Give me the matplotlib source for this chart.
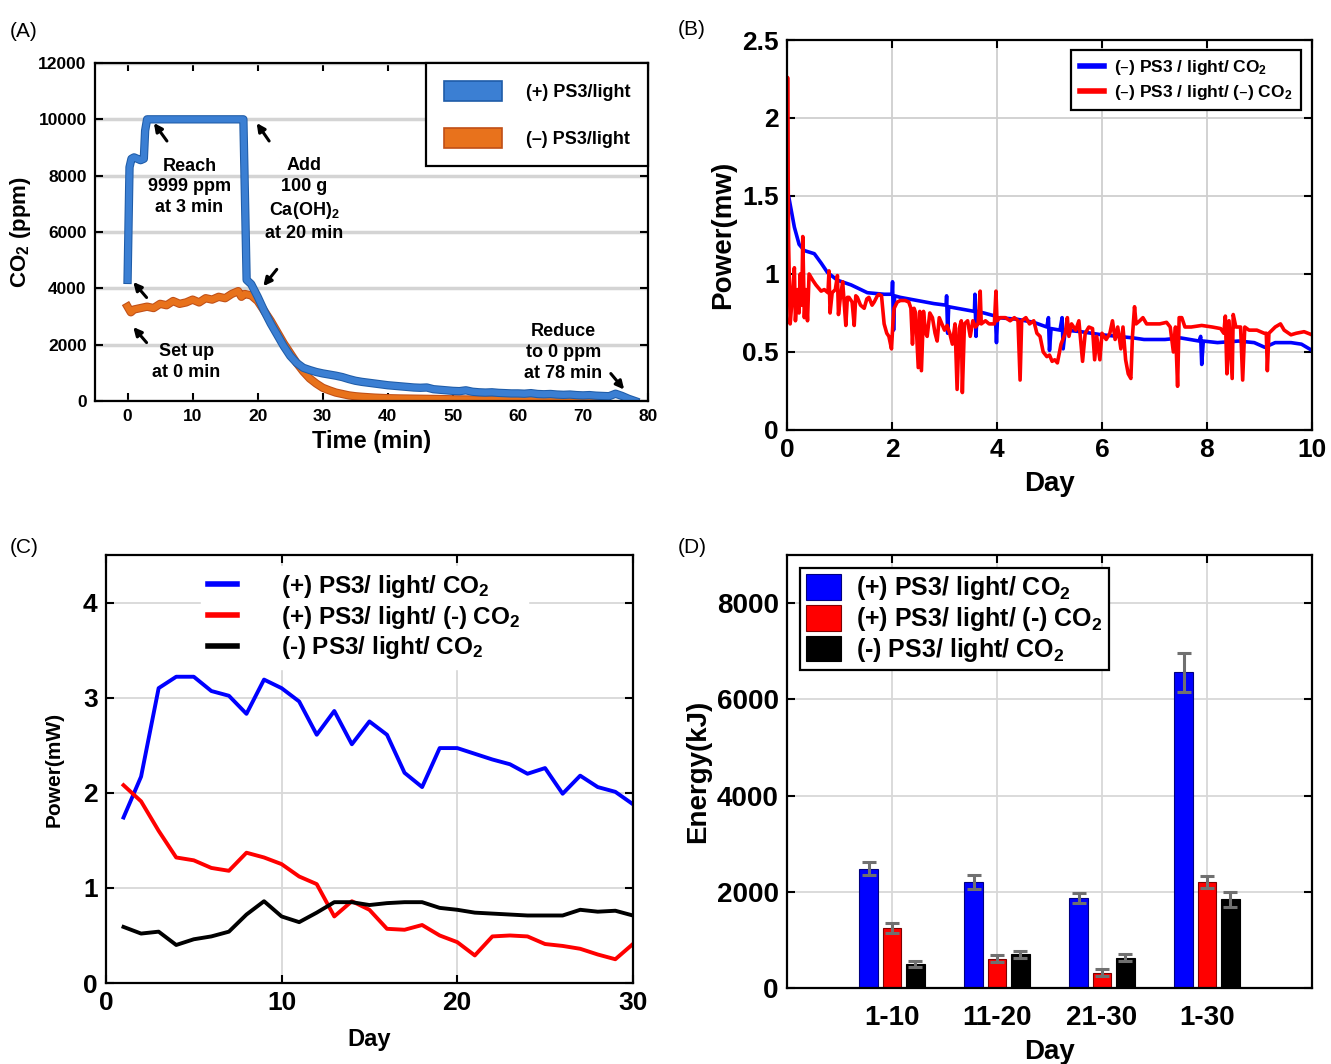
import numpy as np
import matplotlib
matplotlib.use('Agg')
import matplotlib.pyplot as plt
import matplotlib.patheffects as pe
from matplotlib.patches import Patch

plt.rcParams['font.family'] = ['Liberation Sans', 'DejaVu Sans']
plt.rcParams['font.weight'] = 'bold'
plt.rcParams['mathtext.default'] = 'regular'
plt.rcParams['axes.linewidth'] = 1.6

# ---- (A) CO2 vs time ----
a_plus_t = [0, 0.3, 0.6, 1.0, 1.5, 2.0, 2.5, 2.7, 3.0, 5, 10, 15, 17.8, 18.3, 19, 20, 21, 22,
            23, 24, 25, 26, 27, 28, 29, 30, 31, 32, 33, 34, 35, 36, 37, 38, 39, 40, 41, 42, 43,
            44, 45, 46, 47, 48, 49, 50, 51, 52, 53, 54, 55, 56, 57, 58, 59, 60, 61, 62, 63, 64,
            65, 66, 67, 68, 69, 70, 71, 72, 73, 74, 75, 76, 77, 78]
a_plus_co2 = [4300, 8300, 8600, 8650, 8600, 8550, 8600, 9600, 10000, 10000, 10000, 10000, 10000,
              4300, 4150, 3700, 3200, 2750, 2350, 1950, 1600, 1350, 1180, 1100, 1030, 980, 940,
              900, 850, 780, 720, 680, 650, 620, 590, 560, 540, 520, 500, 480, 470, 480, 420, 400,
              380, 360, 350, 380, 330, 310, 300, 310, 290, 280, 270, 270, 260, 280, 250, 240, 250,
              230, 220, 230, 210, 200, 210, 190, 180, 170, 260, 180, 80, 0]
a_minus_t = [0, 0.5, 1, 2, 3, 4, 5, 6, 7, 8, 9, 10, 11, 12, 13, 14, 15, 16, 17, 17.5, 18, 19, 20,
             21, 22, 23, 24, 25, 26, 27, 28, 29, 30, 31, 32, 33, 34, 35, 36, 38, 40, 42, 45, 48,
             50, 55, 60, 65, 70, 72]
a_minus_co2 = [3350, 3150, 3250, 3300, 3350, 3300, 3450, 3400, 3550, 3450, 3500, 3600, 3500, 3650,
               3600, 3700, 3650, 3800, 3900, 3700, 3800, 3750, 3550, 3200, 2850, 2450, 2050, 1700,
               1350, 1050, 800, 620, 470, 380, 300, 250, 200, 170, 150, 120, 100, 90, 80, 70, 60,
               50, 40, 35, 30, 20]

# ---- (B) power over 10 days ----
b_blue_day = [0, 0.03, 0.14, 0.23, 0.33, 0.52, 0.65, 0.77, 0.96, 1.22, 1.53, 1.85, 2.0, 2.01, 2.03,
              2.05, 2.16, 2.48, 2.8, 3.03, 3.04, 3.06, 3.08, 3.24, 3.57, 3.58, 3.6, 3.62, 3.75, 3.97,
              3.99, 4.01, 4.38, 4.7, 4.95, 4.98, 5.0, 5.03, 5.2, 5.24, 5.26, 5.3, 5.6, 6.0, 6.3, 6.6,
              6.8, 7.2, 7.5, 7.85, 7.88, 7.9, 7.93, 8.2, 8.6, 8.9, 9.1, 9.3, 9.6, 9.8, 10]
b_blue_pw = [1.28, 1.5, 1.3, 1.19, 1.15, 1.13, 1.07, 1.01, 0.96, 0.93, 0.88, 0.87, 0.87, 0.95, 0.64,
             0.86, 0.85, 0.83, 0.81, 0.80, 0.86, 0.62, 0.79, 0.78, 0.76, 0.87, 0.60, 0.76, 0.75, 0.73,
             0.56, 0.72, 0.71, 0.69, 0.66, 0.72, 0.51, 0.65, 0.64, 0.72, 0.52, 0.64, 0.63, 0.61, 0.60,
             0.59, 0.58, 0.58, 0.59, 0.57, 0.60, 0.42, 0.57, 0.56, 0.57, 0.56, 0.53, 0.56, 0.56, 0.55,
             0.51]
b_red_day = [0, 0.01, 0.03, 0.06, 0.1, 0.14, 0.16, 0.2, 0.23, 0.25, 0.28, 0.3, 0.33, 0.36, 0.39,
             0.42, 0.49, 0.55, 0.65, 0.71, 0.78, 0.8, 0.82, 0.86, 0.92, 0.96, 0.98, 1.02, 1.06, 1.12,
             1.15, 1.18, 1.24, 1.28, 1.31, 1.34, 1.4, 1.47, 1.52, 1.56, 1.62, 1.66, 1.72, 1.75, 1.8,
             1.85, 1.9, 1.94, 1.99, 2.02, 2.04, 2.1, 2.16, 2.25, 2.32, 2.36, 2.39, 2.42, 2.45, 2.5,
             2.53, 2.56, 2.6, 2.64, 2.67, 2.72, 2.77, 2.82, 2.86, 2.9, 2.95, 3.0, 3.05, 3.1, 3.15,
             3.2, 3.24, 3.28, 3.32, 3.34, 3.38, 3.44, 3.49, 3.54, 3.59, 3.64, 3.68, 3.7, 3.78, 3.85,
             3.95, 3.98, 4.0, 4.06, 4.16, 4.25, 4.33, 4.4, 4.44, 4.47, 4.55, 4.62, 4.7, 4.76, 4.82,
             4.88, 4.95, 5.0, 5.05, 5.1, 5.15, 5.22, 5.3, 5.34, 5.37, 5.42, 5.5, 5.56, 5.6, 5.63,
             5.68, 5.75, 5.82, 5.86, 5.9, 5.96, 6.0, 6.08, 6.15, 6.2, 6.25, 6.3, 6.36, 6.4, 6.45,
             6.5, 6.55, 6.58, 6.62, 6.65, 6.72, 6.78, 6.85, 7.0, 7.1, 7.23, 7.3, 7.36, 7.4, 7.44,
             7.47, 7.52, 7.58, 7.7, 7.9, 8.1, 8.26, 8.32, 8.35, 8.38, 8.42, 8.48, 8.5, 8.55, 8.64,
             8.68, 8.72, 8.8, 8.95, 9.09, 9.13, 9.15, 9.18, 9.3, 9.4, 9.47, 9.6, 9.7, 9.85, 10]
b_red_pw = [1.3, 2.26, 1.2, 0.68, 0.85, 1.04, 0.70, 0.9, 0.75, 1.0, 0.8, 1.24, 0.72, 0.9, 0.70,
            1.0, 0.96, 0.93, 0.89, 0.90, 0.88, 1.02, 0.75, 0.88, 0.90, 0.99, 0.74, 0.86, 0.95, 0.67,
            0.85, 0.85, 0.82, 0.67, 0.86, 0.85, 0.80, 0.78, 0.84, 0.85, 0.80, 0.82, 0.86, 0.87, 0.86,
            0.68, 0.62, 0.60, 0.52, 0.70, 0.78, 0.82, 0.83, 0.83, 0.82, 0.78, 0.55, 0.78, 0.75, 0.40,
            0.76, 0.38, 0.76, 0.62, 0.60, 0.75, 0.72, 0.62, 0.57, 0.72, 0.68, 0.64, 0.67, 0.62, 0.55,
            0.68, 0.26, 0.65, 0.70, 0.24, 0.68, 0.70, 0.60, 0.70, 0.66, 0.68, 0.89, 0.68, 0.70, 0.68,
            0.68, 0.89, 0.70, 0.72, 0.72, 0.70, 0.72, 0.70, 0.32, 0.70, 0.72, 0.68, 0.70, 0.62, 0.60,
            0.50, 0.47, 0.48, 0.44, 0.45, 0.43, 0.55, 0.62, 0.72, 0.60, 0.68, 0.64, 0.70, 0.55, 0.44,
            0.62, 0.66, 0.65, 0.45, 0.60, 0.45, 0.62, 0.58, 0.62, 0.70, 0.58, 0.66, 0.52, 0.66, 0.45,
            0.36, 0.33, 0.60, 0.79, 0.68, 0.70, 0.72, 0.68, 0.68, 0.68, 0.69, 0.66, 0.50, 0.66, 0.28,
            0.72, 0.72, 0.66, 0.66, 0.67, 0.66, 0.65, 0.62, 0.73, 0.36, 0.70, 0.33, 0.74, 0.66, 0.66,
            0.32, 0.66, 0.64, 0.64, 0.62, 0.62, 0.38, 0.62, 0.66, 0.68, 0.64, 0.61, 0.62, 0.63, 0.61]

# ---- (C) daily power over 30 days ----
c_day = list(range(1, 31))
c_plus_co2 = [1.74, 2.17, 3.10, 3.22, 3.22, 3.07, 3.02, 2.83, 3.19, 3.10, 2.96, 2.61, 2.86, 2.51,
              2.75, 2.61, 2.21, 2.06, 2.47, 2.47, 2.41, 2.35, 2.30, 2.20, 2.26, 1.99, 2.18, 2.06,
              2.01, 1.88]
c_plus_noco2 = [2.08, 1.91, 1.60, 1.32, 1.29, 1.21, 1.18, 1.37, 1.32, 1.25, 1.12, 1.04, 0.70, 0.86,
                0.77, 0.57, 0.56, 0.61, 0.50, 0.43, 0.29, 0.49, 0.50, 0.49, 0.41, 0.39, 0.36, 0.30,
                0.25, 0.41]
c_minus_co2 = [0.59, 0.52, 0.54, 0.40, 0.46, 0.49, 0.54, 0.72, 0.86, 0.70, 0.64, 0.74, 0.85, 0.85,
               0.82, 0.84, 0.85, 0.85, 0.79, 0.77, 0.74, 0.73, 0.72, 0.71, 0.71, 0.71, 0.77, 0.75,
               0.76, 0.71]

# ---- (D) energy per period ----
d_periods = ['1-10', '11-20', '21-30', '1-30']
d_plus_co2 = [2480, 2200, 1870, 6560]
d_plus_co2_err = [140, 150, 100, 400]
d_plus_noco2 = [1250, 610, 320, 2200]
d_plus_noco2_err = [100, 75, 75, 120]
d_minus_co2 = [500, 700, 630, 1840]
d_minus_co2_err = [70, 70, 70, 150]

fig = plt.figure(figsize=(13.31, 10.64), dpi=100)


def style_axes(ax, labelsize):
    ax.tick_params(direction='in', top=True, right=True, width=1.5, length=6,
                   labelsize=labelsize, pad=6)
    for lab in ax.get_xticklabels() + ax.get_yticklabels():
        lab.set_fontweight('bold')


# (A)
axA = fig.add_axes([0.0714, 0.6231, 0.4155, 0.3177])
blue_a, blue_a_edge = '#3b7fd3', '#1f5ca8'
orange_a, orange_a_edge = '#e8721c', '#c04f17'
axA.plot(a_minus_t, a_minus_co2, color=orange_a, lw=4.5,
         path_effects=[pe.Stroke(linewidth=6, foreground=orange_a_edge), pe.Normal()])
axA.plot(a_plus_t, a_plus_co2, color=blue_a, lw=4.5,
         path_effects=[pe.Stroke(linewidth=6, foreground=blue_a_edge), pe.Normal()])
axA.set_xlim(-5, 80)
axA.set_ylim(0, 12000)
axA.set_xticks(range(0, 81, 10))
axA.set_yticks(range(0, 12001, 2000))
axA.yaxis.grid(True, color='#d4d4d4', lw=2.5)
axA.set_axisbelow(True)
style_axes(axA, 12.5)
axA.set_xlabel('Time (min)', fontsize=17, fontweight='bold', labelpad=4)
axA.set_ylabel('CO$_2$ (ppm)', fontsize=16, fontweight='bold', labelpad=4)

ann_kw = dict(fontsize=13, fontweight='bold', ha='center', va='center', linespacing=1.3)
arrow_kw = dict(arrowstyle='-|>', color='black', lw=2.2, mutation_scale=12)
axA.text(9.5, 7600, 'Reach\n9999 ppm\nat 3 min', **ann_kw)
axA.text(27.2, 7150, 'Add\n100 g\nCa(OH)$_2$\nat 20 min', **ann_kw)
axA.text(9.0, 1370, 'Set up\nat 0 min', **ann_kw)
axA.text(67.0, 1720, 'Reduce\nto 0 ppm\nat 78 min', **ann_kw)
axA.annotate('', xy=(3.8, 9950), xytext=(6.3, 9150), arrowprops=arrow_kw)
axA.annotate('', xy=(19.6, 9950), xytext=(22.0, 9150), arrowprops=arrow_kw)
axA.annotate('', xy=(20.6, 4000), xytext=(23.2, 4750), arrowprops=arrow_kw)
axA.annotate('', xy=(0.6, 4300), xytext=(3.2, 3600), arrowprops=arrow_kw)
axA.annotate('', xy=(0.6, 2700), xytext=(3.2, 2000), arrowprops=arrow_kw)
axA.annotate('', xy=(76.6, 330), xytext=(74.0, 1050), arrowprops=arrow_kw)

legA = axA.legend(handles=[Patch(facecolor=blue_a, edgecolor=blue_a_edge, lw=1.2),
                           Patch(facecolor=orange_a, edgecolor=orange_a_edge, lw=1.2)],
                  labels=['(+) PS3/light', '(\u2013) PS3/light'],
                  loc='upper right', bbox_to_anchor=(1.0, 1.0), fancybox=False,
                  edgecolor='black', framealpha=1, borderaxespad=0,
                  prop={'weight': 'bold', 'size': 13}, handlelength=3.2, handleheight=1.3,
                  handletextpad=1.3, labelspacing=1.5, borderpad=1.0)
legA.get_frame().set_linewidth(1.6)

# (B)
axB = fig.add_axes([0.5913, 0.5959, 0.3944, 0.3665])
axB.plot(b_blue_day, b_blue_pw, color='#0000ff', lw=2.6)
axB.plot(b_red_day, b_red_pw, color='#ff0000', lw=2.6)
axB.set_xlim(0, 10)
axB.set_ylim(0, 2.5)
axB.set_xticks(range(0, 11, 2))
axB.set_yticks([0, 0.5, 1, 1.5, 2, 2.5])
axB.set_yticklabels(['0', '0.5', '1', '1.5', '2', '2.5'])
axB.grid(True, color='#cfcfcf', lw=1.3)
axB.set_axisbelow(True)
style_axes(axB, 19)
axB.set_xlabel('Day', fontsize=20, fontweight='bold', labelpad=6)
axB.set_ylabel('Power(mw)', fontsize=20, fontweight='bold', labelpad=4)
legB = axB.legend(['(\u2013) PS3 / light/ CO$_2$', '(\u2013) PS3 / light/ (\u2013) CO$_2$'],
                  loc='upper right', bbox_to_anchor=(0.98, 0.975), fancybox=False,
                  edgecolor='black', framealpha=1, borderaxespad=0,
                  prop={'weight': 'bold', 'size': 12.5}, handlelength=1.4,
                  handletextpad=0.6, labelspacing=0.3, borderpad=0.5)
legB.get_frame().set_linewidth(1.6)
for ln in legB.get_lines():
    ln.set_linewidth(4)

# (C)
axC = fig.add_axes([0.0796, 0.0761, 0.3959, 0.4023])
axC.plot(c_day, c_plus_co2, color='#0000ff', lw=2.8)
axC.plot(c_day, c_plus_noco2, color='#ff0000', lw=2.8)
axC.plot(c_day, c_minus_co2, color='black', lw=2.8)
axC.set_xlim(0, 30)
axC.set_ylim(0, 4.5)
axC.set_xticks([0, 10, 20, 30])
axC.set_yticks([0, 1, 2, 3, 4])
axC.grid(True, color='#d8d8d8', lw=1.3)
axC.set_axisbelow(True)
style_axes(axC, 19)
axC.set_xlabel('Day', fontsize=17, fontweight='bold', labelpad=9)
axC.set_ylabel('Power(mW)', fontsize=15, fontweight='bold', labelpad=14)
legC = axC.legend(['(+) PS3/ light/ CO$_2$', '(+) PS3/ light/ (-) CO$_2$',
                   '(-) PS3/ light/ CO$_2$'],
                  loc='upper left', bbox_to_anchor=(0.18, 0.975), frameon=True,
                  facecolor='white', edgecolor='white', framealpha=1, borderaxespad=0,
                  prop={'weight': 'bold', 'size': 17.5}, handlelength=1.2,
                  handletextpad=1.8, labelspacing=0.15, borderpad=0.3)
for ln in legC.get_lines():
    ln.set_linewidth(4)

# (D)
axD = fig.add_axes([0.5913, 0.0714, 0.3944, 0.4070])
pos = np.arange(1, len(d_periods) + 1)
bw = 0.18
err_kw = dict(ecolor='#707070', elinewidth=2.2, capsize=5, capthick=2.2)
axD.bar(pos - 0.22, d_plus_co2, bw, yerr=d_plus_co2_err, color='#0000ff',
        edgecolor='#000080', lw=0.8, error_kw=err_kw, label='(+) PS3/ light/ CO$_2$')
axD.bar(pos, d_plus_noco2, bw, yerr=d_plus_noco2_err, color='#ff0000',
        edgecolor='#800000', lw=0.8, error_kw=err_kw, label='(+) PS3/ light/ (-) CO$_2$')
axD.bar(pos + 0.22, d_minus_co2, bw, yerr=d_minus_co2_err, color='black',
        edgecolor='black', lw=0.8, error_kw=err_kw, label='(-) PS3/ light/ CO$_2$')
axD.set_xlim(0, 5)
axD.set_ylim(0, 9000)
axD.set_xticks(pos)
axD.set_xticklabels(d_periods)
axD.set_yticks([0, 2000, 4000, 6000, 8000])
axD.grid(True, color='#d8d8d8', lw=1.3)
axD.set_axisbelow(True)
style_axes(axD, 20)
axD.tick_params(axis='x', pad=12)
axD.set_xlabel('Day', fontsize=20, fontweight='bold', labelpad=6)
axD.set_ylabel('Energy(kJ)', fontsize=20, fontweight='bold', labelpad=4)
legD = axD.legend(loc='upper left', bbox_to_anchor=(0.025, 0.97), fancybox=False,
                  edgecolor='black', framealpha=1, borderaxespad=0,
                  prop={'weight': 'bold', 'size': 18}, handlelength=1.4, handleheight=1.2,
                  handletextpad=0.6, labelspacing=0.1, borderpad=0.25)
legD.get_frame().set_linewidth(1.6)

# panel letters
for x, y, s in [(0.007, 0.970, '(A)'), (0.509, 0.972, '(B)'),
                (0.007, 0.485, '(C)'), (0.509, 0.485, '(D)')]:
    fig.text(x, y, s, fontsize=15, fontweight='normal', va='center', ha='left')

fig.savefig('out.png', dpi=100)
